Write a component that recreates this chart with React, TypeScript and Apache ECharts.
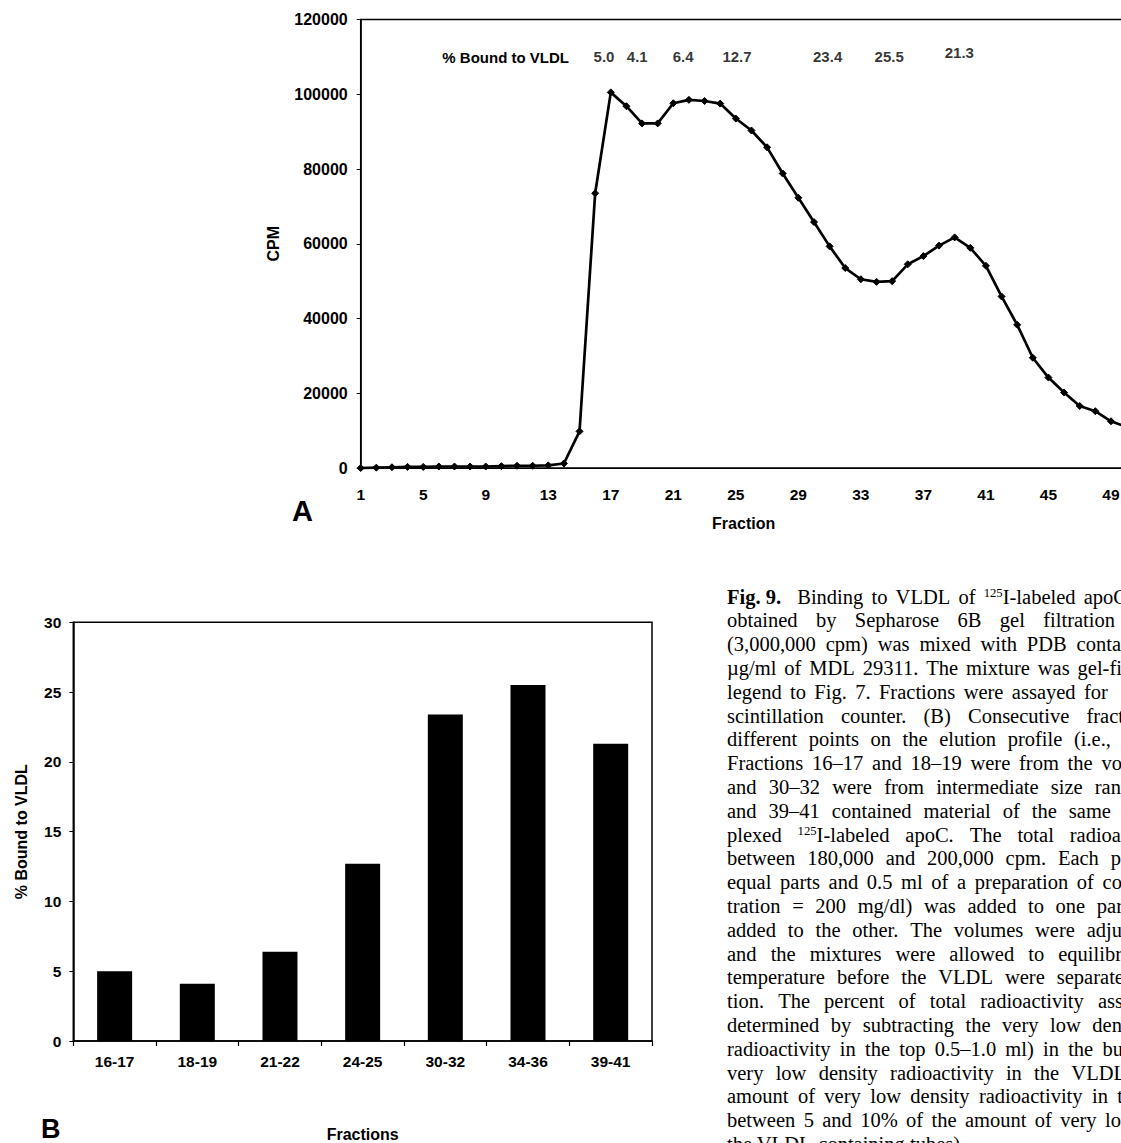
import React, { useEffect, useRef } from "react";
import * as echarts from "echarts";

// ---------- Data ----------
const fractions = [
  1, 2, 3, 4, 5, 6, 7, 8, 9, 10, 11, 12, 13, 14, 15, 16, 17, 18, 19, 20, 21, 22, 23, 24, 25,
  26, 27, 28, 29, 30, 31, 32, 33, 34, 35, 36, 37, 38, 39, 40, 41, 42, 43, 44, 45, 46, 47, 48, 49, 50,
];
const cpm = [
  0, 100, 200, 300, 300, 400, 400, 400, 400, 500, 600, 600, 700, 1200, 9800, 73500, 100500, 96800,
  92200, 92200, 97600, 98500, 98200, 97500, 93500, 90300, 85800, 78800, 72300, 65800, 59300, 53500,
  50500, 49800, 50000, 54500, 56700, 59500, 61700, 58900, 54100, 45900, 38300, 29500, 24200, 20200,
  16600, 15200, 12500, 11000,
];
const barCategories = ["16-17", "18-19", "21-22", "24-25", "30-32", "34-36", "39-41"];
const boundPct = [5.0, 4.1, 6.4, 12.7, 23.4, 25.5, 21.3];
const cpmAxis = { min: 0, max: 120000, step: 20000 };
const fractionAxis = { min: 1, max: 50, step: 4 };
const pctAxis = { min: 0, max: 30, step: 5 };
const annotationLevel = 110000;

// midpoint fraction of each range, e.g. "30-32" -> 31
const rangeMid = (c: string) => {
  const [a, b] = c.split("-").map(Number);
  return (a + b) / 2;
};

// small hand-placement nudges of the annotation labels (pixels), as in the original figure
const annotationNudge: [number, number][] = [
  [1, 0], [3, 0], [2, 0], [9, 0], [-2, 0], [-3, 0], [-11, -4],
];

const captionLines: { words: string[]; end: number }[] = [
  { words: ["**Fig. 9.**", "Binding", "to", "VLDL", "of", "^125^I-labeled", "apoC"], end: 1127 },
  { words: "obtained by Sepharose 6B gel filtration".split(" "), end: 1115 },
  { words: "(3,000,000 cpm) was mixed with PDB conta".split(" "), end: 1121 },
  { words: "µg/ml of MDL 29311. The mixture was gel-fi".split(" "), end: 1122 },
  { words: "legend to Fig. 7. Fractions were assayed for".split(" "), end: 1108 },
  { words: "scintillation counter. (B) Consecutive fract".split(" "), end: 1124 },
  { words: "different points on the elution profile (i.e.,".split(" "), end: 1111 },
  { words: "Fractions 16–17 and 18–19 were from the vo".split(" "), end: 1122 },
  { words: "and 30–32 were from intermediate size ran".split(" "), end: 1121 },
  { words: "and 39–41 contained material of the same".split(" "), end: 1111 },
  { words: ["plexed", "^125^I-labeled", "apoC.", "The", "total", "radioa"], end: 1121 },
  { words: "between 180,000 and 200,000 cpm. Each p".split(" "), end: 1121 },
  { words: "equal parts and 0.5 ml of a preparation of co".split(" "), end: 1122 },
  { words: "tration = 200 mg/dl) was added to one par".split(" "), end: 1123 },
  { words: "added to the other. The volumes were adju".split(" "), end: 1122 },
  { words: "and the mixtures were allowed to equilibr".split(" "), end: 1122 },
  { words: "temperature before the VLDL were separate".split(" "), end: 1124 },
  { words: "tion. The percent of total radioactivity ass".split(" "), end: 1123 },
  { words: "determined by subtracting the very low den".split(" "), end: 1122 },
  { words: "radioactivity in the top 0.5–1.0 ml) in the bu".split(" "), end: 1123 },
  { words: "very low density radioactivity in the VLDL".split(" "), end: 1126 },
  { words: "amount of very low density radioactivity in t".split(" "), end: 1123 },
  { words: "between 5 and 10% of the amount of very lo".split(" "), end: 1121 },
];
const captionTail = "the VLDL-containing tubes).";

// ---------- Styles ----------
const SANS = "'Liberation Sans', Arial, Helvetica, sans-serif";
const SERIF = "'Liberation Serif', 'Times New Roman', serif";
const BLACK = "#000";

const Word = ({ w }: { w: string }) => {
  if (w.startsWith("**")) {
    return <span style={{ fontWeight: "bold", marginRight: 8 }}>{w.replace(/\*\*/g, "")}</span>;
  }
  const m = w.match(/^\^(\d+)\^(.*)$/);
  if (m) {
    return (
      <span>
        <span style={{ fontSize: "0.62em", position: "relative", top: "-0.55em" }}>{m[1]}</span>
        {m[2]}
      </span>
    );
  }
  return <span>{w}</span>;
};

const Caption = () => {
  const left = 727;
  const firstCenter = 597;
  const step = 23.8;
  const lh = 23;
  return (
    <div style={{ position: "absolute", left: 0, top: 0, fontFamily: SERIF, fontSize: 20.5, color: BLACK }}>
      {captionLines.map((ln, i) => (
        <div
          key={i}
          style={{
            position: "absolute",
            left,
            top: firstCenter + i * step - lh / 2,
            width: ln.end - left,
            height: lh,
            lineHeight: lh + "px",
            display: "flex",
            justifyContent: "space-between",
            whiteSpace: "nowrap",
          }}
        >
          {ln.words.map((w, j) => (
            <Word key={j} w={w} />
          ))}
        </div>
      ))}
      <div
        style={{
          position: "absolute",
          left,
          top: firstCenter + captionLines.length * step - lh / 2,
          height: lh,
          lineHeight: lh + "px",
          whiteSpace: "nowrap",
        }}
      >
        {captionTail}
      </div>
    </div>
  );
};

export default function App() {
  const ref = useRef<HTMLDivElement>(null);

  useEffect(() => {
    if (!ref.current) return;
    const chart = echarts.init(ref.current, null, { renderer: "svg" });

    const tickLabel = (size: number, margin: number) => ({
      color: BLACK,
      fontFamily: SANS,
      fontWeight: "bold" as const,
      fontSize: size,
      margin,
    });
    const nameStyle = { color: BLACK, fontFamily: SANS, fontWeight: "bold" as const, fontSize: 16 };

    const option: any = {
      animation: false,
      backgroundColor: "transparent",
      grid: [
        {
          left: 360.7,
          top: 19.5,
          width: 765.9,
          height: 448.5,
          show: true,
          borderColor: BLACK,
          borderWidth: 1.5,
          backgroundColor: "transparent",
        },
        {
          left: 73.3,
          top: 622.3,
          width: 578.7,
          height: 421.7,
          show: true,
          borderColor: BLACK,
          borderWidth: 1.5,
          backgroundColor: "transparent",
        },
      ],
      xAxis: [
        {
          type: "value",
          gridIndex: 0,
          min: fractionAxis.min,
          max: fractionAxis.max,
          interval: fractionAxis.step,
          name: "Fraction",
          nameLocation: "middle",
          nameGap: 47,
          nameTextStyle: nameStyle,
          axisLine: { show: true, lineStyle: { color: BLACK, width: 1.2 } },
          axisTick: { show: false },
          splitLine: { show: false },
          axisLabel: { ...tickLabel(15.5, 18), showMaxLabel: false, formatter: (v: number) => String(v) },
        },
        {
          type: "category",
          gridIndex: 1,
          data: barCategories,
          name: "Fractions",
          nameLocation: "middle",
          nameGap: 85,
          nameTextStyle: nameStyle,
          axisLine: { show: true, lineStyle: { color: BLACK, width: 1.5 } },
          axisTick: { show: true, inside: false, length: 5, lineStyle: { color: BLACK, width: 1.2 } },
          splitLine: { show: false },
          axisLabel: tickLabel(15.5, 12),
        },
      ],
      yAxis: [
        {
          type: "value",
          gridIndex: 0,
          min: cpmAxis.min,
          max: cpmAxis.max,
          interval: cpmAxis.step,
          name: "CPM",
          nameLocation: "middle",
          nameGap: 79,
          nameTextStyle: nameStyle,
          axisLine: { show: true, lineStyle: { color: BLACK, width: 1.5 } },
          axisTick: { show: true, inside: false, length: 4, lineStyle: { color: BLACK, width: 1 } },
          splitLine: { show: false },
          axisLabel: { ...tickLabel(16, 13), formatter: (v: number) => String(v) },
        },
        {
          type: "value",
          gridIndex: 1,
          min: pctAxis.min,
          max: pctAxis.max,
          interval: pctAxis.step,
          name: "% Bound to VLDL",
          nameLocation: "middle",
          nameGap: 44,
          nameTextStyle: nameStyle,
          axisLine: { show: true, lineStyle: { color: BLACK, width: 1.5 } },
          axisTick: { show: true, inside: false, length: 4, lineStyle: { color: BLACK, width: 1 } },
          splitLine: { show: false },
          axisLabel: { ...tickLabel(15.5, 12), formatter: (v: number) => String(v) },
        },
      ],
      series: [
        {
          type: "line",
          xAxisIndex: 0,
          yAxisIndex: 0,
          data: fractions.map((f, i) => [f, cpm[i]]),
          symbol: "diamond",
          symbolSize: 7,
          showAllSymbol: true,
          lineStyle: { color: BLACK, width: 2.7 },
          itemStyle: { color: BLACK, borderColor: BLACK },
          clip: false,
        },
        {
          type: "scatter",
          xAxisIndex: 0,
          yAxisIndex: 0,
          data: barCategories.map((c, i) => ({
            value: [rangeMid(c), annotationLevel, boundPct[i]],
            label: { offset: annotationNudge[i] },
          })),
          symbolSize: 0,
          itemStyle: { color: "transparent" },
          silent: true,
          label: {
            show: true,
            position: "inside",
            color: BLACK,
            fontFamily: SANS,
            fontWeight: "bold",
            fontSize: 15,
            formatter: (p: any) => Number(p.value[2]).toFixed(1),
          },
        },
        {
          type: "bar",
          xAxisIndex: 1,
          yAxisIndex: 1,
          data: boundPct,
          barWidth: 35,
          itemStyle: { color: BLACK },
        },
      ],
      graphic: [
        {
          type: "text",
          x: 569,
          y: 57,
          style: {
            text: "% Bound to VLDL",
            fill: BLACK,
            font: `bold 15px ${SANS}`,
            textAlign: "right",
            textVerticalAlign: "middle",
          },
        },
        {
          type: "text",
          x: 292,
          y: 511,
          style: { text: "A", fill: BLACK, font: `bold 29px ${SANS}`, textAlign: "left", textVerticalAlign: "middle" },
        },
        {
          type: "text",
          x: 41,
          y: 1129,
          style: { text: "B", fill: BLACK, font: `bold 27px ${SANS}`, textAlign: "left", textVerticalAlign: "middle" },
        },
      ],
    };

    chart.setOption(option);
    return () => chart.dispose();
  }, []);

  return (
    <div
      style={{
        position: "fixed",
        left: 0,
        top: 0,
        width: 1121,
        height: 1143,
        overflow: "hidden",
        background: "#fff",
      }}
    >
      <div ref={ref} style={{ position: "absolute", left: 0, top: 0, width: 1200, height: 1143 }} />
      <Caption />
    </div>
  );
}
